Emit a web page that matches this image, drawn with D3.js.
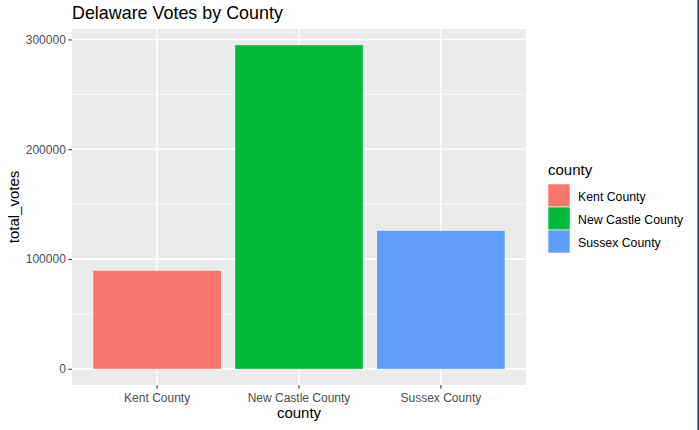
<!DOCTYPE html>
<html><head><meta charset="utf-8">
<script src="https://cdn.jsdelivr.net/npm/d3@7"></script>
<style>body{margin:0;background:#fff}svg{display:block;font-family:"Liberation Sans",Arial,sans-serif}</style>
</head><body><svg id="c" width="699" height="430"></svg>
<script>
const categories = ["Kent County", "New Castle County", "Sussex County"];
const totalVotes = [89300, 294800, 125700];
const colors = ["#F8766D", "#00BA38", "#619CFF"];
const yTicks = [0, 100000, 200000, 300000];
const yMinor = [50000, 150000, 250000];

const svg = d3.select("#c");
const P = {l: 72, t: 29, r: 526, b: 385};
const maxV = d3.max(totalVotes);
const y = d3.scaleLinear().domain([-0.05 * maxV, 1.05 * maxV]).range([P.b, P.t]);
const xLin = d3.scaleLinear().domain([0.4, 3.6]).range([P.l, P.r]);
const x = d3.scaleBand().domain(categories).range([xLin(0.5), xLin(3.5)]).paddingInner(0.1).paddingOuter(0.05);

svg.append("rect").attr("x", P.l).attr("y", P.t).attr("width", P.r - P.l).attr("height", P.b - P.t).attr("fill", "#EBEBEB");
const g = svg.append("g");
g.selectAll(".ymin").data(yMinor).join("line").attr("x1", P.l).attr("x2", P.r)
  .attr("y1", d => y(d)).attr("y2", d => y(d)).attr("stroke", "#fff").attr("stroke-width", 0.7);
g.selectAll(".ymaj").data(yTicks).join("line").attr("x1", P.l).attr("x2", P.r)
  .attr("y1", d => y(d)).attr("y2", d => y(d)).attr("stroke", "#fff").attr("stroke-width", 1.4);
g.selectAll(".xmaj").data(categories).join("line").attr("y1", P.t).attr("y2", P.b)
  .attr("x1", d => x(d) + x.bandwidth() / 2).attr("x2", d => x(d) + x.bandwidth() / 2).attr("stroke", "#fff").attr("stroke-width", 1.4);

svg.selectAll(".bar").data(categories).join("rect")
  .attr("x", d => x(d)).attr("width", x.bandwidth())
  .attr("y", (d, i) => y(totalVotes[i])).attr("height", (d, i) => y(0) - y(totalVotes[i]))
  .attr("fill", (d, i) => colors[i]);

// axes
const yAxis = d3.axisLeft(y).tickValues(yTicks).tickFormat(d3.format("d")).tickSize(3.7).tickPadding(2.5);
const ya = svg.append("g").attr("transform", `translate(${P.l},0)`).call(yAxis);
const xAxis = d3.axisBottom(x).tickSize(3.7).tickPadding(4.8);
const xa = svg.append("g").attr("transform", `translate(0,${P.b})`).call(xAxis);
[ya, xa].forEach(a => {
  a.select(".domain").remove();
  a.selectAll(".tick line").attr("stroke", "#333333").attr("stroke-width", 1);
  a.selectAll(".tick text").attr("fill", "#4D4D4D").style("font-size", "12px").style("font-family", "Liberation Sans, Arial, sans-serif");
});

svg.append("text").attr("x", P.l).attr("y", 19).text("Delaware Votes by County")
  .style("font-size", "17.9px").attr("fill", "#000");
svg.append("text").attr("x", (P.l + P.r) / 2).attr("y", 418).attr("text-anchor", "middle").text("county")
  .style("font-size", "15px").attr("fill", "#000");
svg.append("text").attr("transform", `translate(19,${(P.t + P.b) / 2}) rotate(-90)`).attr("text-anchor", "middle").text("total_votes")
  .style("font-size", "15px").attr("fill", "#000");

// legend
const L = svg.append("g");
L.append("text").attr("x", 548).attr("y", 175).text("county").style("font-size", "15px").attr("fill", "#000");
const key = 23;
categories.forEach((c, i) => {
  L.append("rect").attr("x", 548).attr("y", 184 + i * key).attr("width", key - 1).attr("height", key)
    .attr("fill", colors[i]).attr("stroke", "#fff").attr("stroke-width", 0.6);
  L.append("text").attr("x", 578).attr("y", 184 + i * key + key / 2 + 1).attr("dy", "0.35em").text(c)
    .style("font-size", "12.3px").attr("fill", "#000");
});

svg.append("rect").attr("x", 697.5).attr("y", 0).attr("width", 1.5).attr("height", 430).attr("fill", "#0E3462");
</script></body></html>
